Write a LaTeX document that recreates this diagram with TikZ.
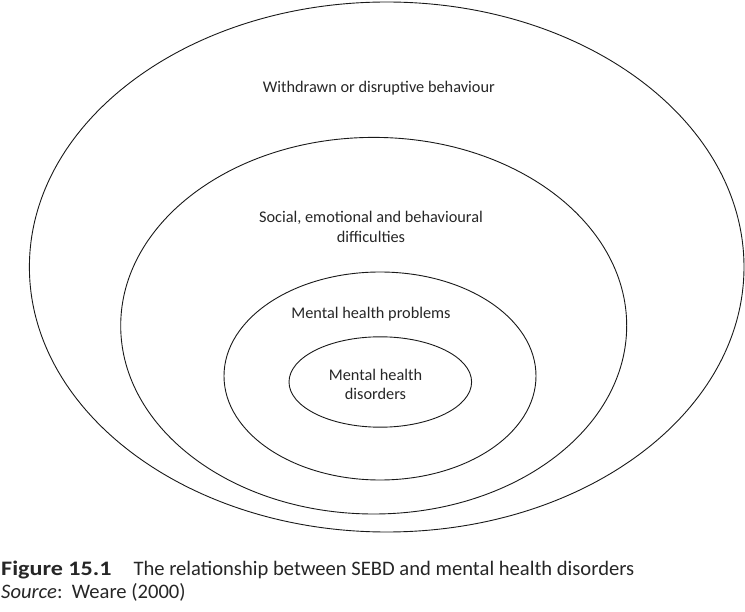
\documentclass[tikz,border=0pt]{standalone}
\usepackage{fontspec}
\setmainfont{Carlito}
\begin{document}
\begin{tikzpicture}[x=1pt,y=-1pt,
  ring/.style={draw=black!90, line width=0.9pt},
  lbl/.style={font=\fontsize{16.3}{19.7}\selectfont, text=black!85, inner sep=0pt, anchor=base, align=center},
  captxt/.style={font=\fontsize{20.6}{23}\selectfont, text=black!85, inner sep=0pt, anchor=base west}]
\useasboundingbox (0,0) rectangle (745,612);
\draw[ring] (386.7,267) ellipse [x radius=357.3pt, y radius=265pt];
\draw[ring] (373.7,325.7) ellipse [x radius=253pt, y radius=188.3pt];
\draw[ring] (380,376) ellipse [x radius=156pt, y radius=104pt];
\draw[ring] (380.3,382) ellipse [x radius=91.3pt, y radius=45.2pt];
\node[lbl] (wd) at (378.8,92.3) {Withdrawn or disruptive behaviour};
\node[lbl] (sebd) at (371,242.4) {Social, emotional and behavioural\\difficulties};
\node[lbl] (mhp) at (371,318.3) {Mental health problems};
\node[lbl] (mhd) at (375.5,400) {Mental health\\disorders};
\node[captxt] (fig) at (1,575.7) {\scalebox{1.17}[1]{\textbf{Figure 15.1}}};
\node[captxt] (title) at (133.3,575.7) {The relationship between SEBD and mental health disorders};
\node[captxt] (src) at (1,598.3) {\textit{Source}:\ \ Weare (2000)};
\end{tikzpicture}
\end{document}
